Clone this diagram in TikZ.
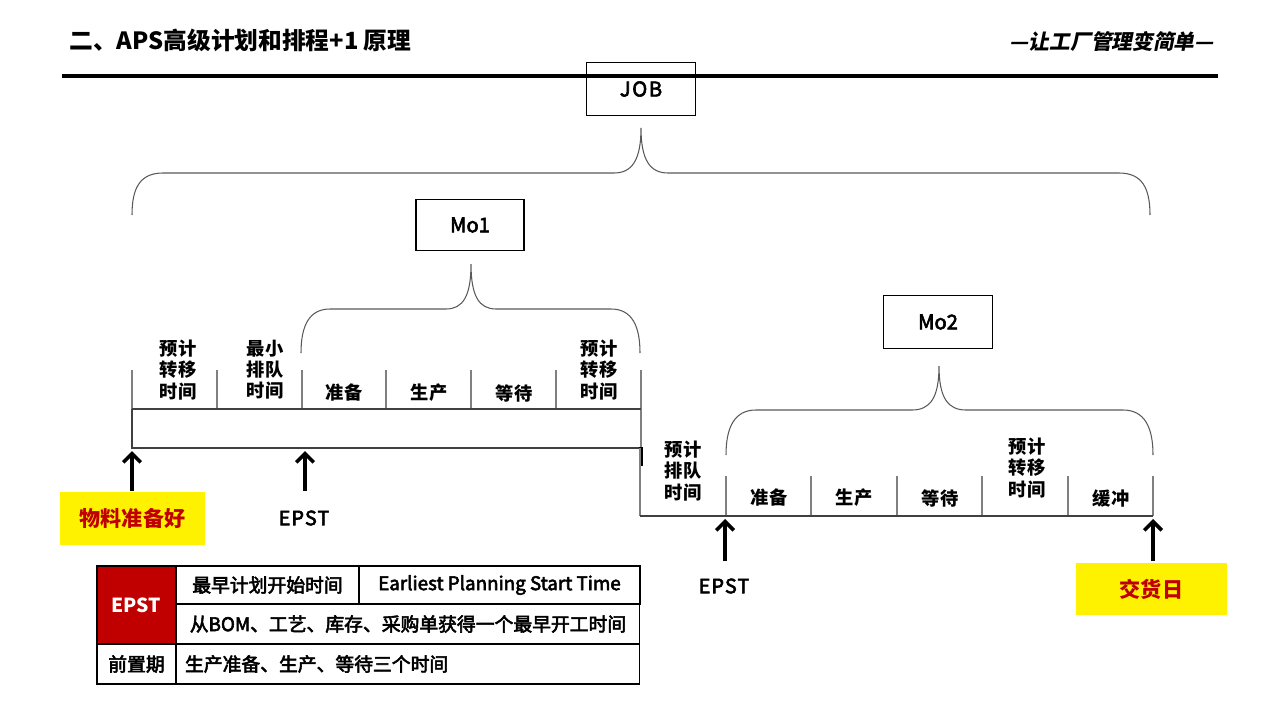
\documentclass[tikz,border=0pt]{standalone}
\usepackage{fontspec}
\setmainfont{Noto Sans CJK SC}
\newfontfamily\medfont{Noto Sans CJK SC}[FakeBold=3]
\newfontfamily\slfont{Noto Sans CJK SC}[FakeSlant=0.2]
\usetikzlibrary{arrows.meta}
\definecolor{dred}{HTML}{C00000}
\definecolor{brgray}{HTML}{595959}
\definecolor{tkgray}{HTML}{808080}
\definecolor{lngray}{HTML}{404040}
\begin{document}
\begin{tikzpicture}[x=0.02cm,y=-0.02cm,
  titlebox/.style={draw=black, line width=0.6pt, fill=white, inner sep=0pt, font=\fontsize{11.5}{13}\selectfont\medfont},
  bracel/.style={draw=brgray, line width=0.6pt},
  tick/.style={draw=tkgray, line width=0.6pt},
  hline/.style={draw=lngray, line width=0.6pt},
  lbl/.style={align=center, inner sep=0pt, font=\fontsize{10.4}{12}\selectfont\bfseries},
  uparrow/.style={draw=black, line width=2.1pt, -{Straight Barb[length=5pt,width=10pt]}},
  yellowbox/.style={fill=yellow, inner sep=0pt, text=dred, font=\fontsize{12}{14}\selectfont\bfseries},
  epstlbl/.style={inner sep=0pt, font=\fontsize{11.2}{13}\selectfont\medfont\addfontfeature{LetterSpace=6}},
  cell/.style={draw=black, line width=0.6pt, inner sep=0pt, font=\fontsize{10.7}{12}\selectfont\medfont},
]
\useasboundingbox (0,0) rectangle (1280,720);

% header
\node[anchor=west, inner sep=0pt, font=\fontsize{13.5}{15}\selectfont\bfseries] (title) at (69,40) {二、APS高级计划和排程+1 原理};
\node[anchor=east, inner sep=0pt, font=\fontsize{11.8}{13}\selectfont\slfont\bfseries] (slogan) at (1214,42) {—让工厂管理变简单—};

% JOB box and thick rule
\node[titlebox, minimum width=2.18cm, minimum height=1.06cm] (job) at (641,89) {\addfontfeature{LetterSpace=8}JOB};
\coordinate (ruleL) at (62,76);
\coordinate (ruleR) at (1218,76);
\draw[line width=2.8pt] (ruleL) -- (ruleR);

% JOB brace
\draw[bracel] (132,215) .. controls (132,188) and (140,173) .. (163,173) -- (614,173)
  .. controls (632,173) and (641,160) .. (641,128)
  .. controls (641,160) and (650,173) .. (668,173) -- (1119,173)
  .. controls (1142,173) and (1150,188) .. (1150,215);

% Mo1
\node[titlebox, minimum width=2.16cm, minimum height=1.02cm] (mo1) at (470,225) {Mo1};
\draw[bracel] (301,353) .. controls (301,326) and (309,309) .. (330,309) -- (446,309)
  .. controls (463,309) and (471,296) .. (471,264)
  .. controls (471,296) and (479,309) .. (496,309) -- (611,309)
  .. controls (632,309) and (640,326) .. (640,353);

% Mo1 timeline
\foreach \x in {132,217,302,386,471,556} \draw[tick] (\x,370) -- (\x,409);
\draw[tick] (641,370) -- (641,448);
\draw[hline] (132,409) -- (641,409);
\draw[hline] (132,409) -- (132,448) -- (641,448);
\draw[line width=2.2pt] (641,447) -- (641,466);

\node[lbl] (m1a) at (178,370) {预计\\转移\\时间};
\node[lbl] (m1b) at (265,370) {最小\\排队\\时间};
\node[lbl] (m1c) at (344,393) {准备};
\node[lbl] (m1d) at (429,393) {生产};
\node[lbl] (m1e) at (514,393) {等待};
\node[lbl] (m1f) at (599,370) {预计\\转移\\时间};

% Mo2
\node[titlebox, minimum width=2.18cm, minimum height=1.06cm] (mo2) at (938,322) {Mo2};
\draw[bracel] (726,455) .. controls (726,428) and (734,410) .. (756,410) -- (912,410)
  .. controls (930,410) and (939,398) .. (939,366)
  .. controls (939,398) and (948,410) .. (966,410) -- (1123,410)
  .. controls (1145,410) and (1153,428) .. (1153,455);

% Mo2 timeline
\draw[tick] (640,448) -- (640,516);
\foreach \x in {726,811,897,982,1068,1153} \draw[tick] (\x,476) -- (\x,516);
\draw[hline] (640,516) -- (1153,516);

\node[lbl] (m2a) at (683,471) {预计\\排队\\时间};
\node[lbl] (m2b) at (769,498) {准备};
\node[lbl] (m2c) at (854,498) {生产};
\node[lbl] (m2d) at (940,498) {等待};
\node[lbl] (m2e) at (1027,468) {预计\\转移\\时间};
\node[lbl] (m2f) at (1111,499) {缓冲};

% labels and arrows
\node[yellowbox, minimum width=2.9cm, minimum height=1.06cm] (wuliao) at (132.5,518.5) {物料准备好};
\node[epstlbl] (epst1) at (304,518) {EPST};
\node[epstlbl] (epst2) at (724,586) {EPST};
\node[yellowbox, minimum width=3.02cm, minimum height=1.04cm] (jiaohuo) at (1151.5,589) {交货日};

\coordinate (t1) at (132,451);
\coordinate (t2) at (305,451);
\coordinate (t3) at (725,519);
\coordinate (t4) at (1153,519);
\coordinate (s1) at (132,491);
\coordinate (s2) at (305,491);
\coordinate (s3) at (725,561);
\coordinate (s4) at (1153,561);
\draw[uparrow] (s1) -- (t1);
\draw[uparrow] (s2) -- (t2);
\draw[uparrow] (s3) -- (t3);
\draw[uparrow] (s4) -- (t4);

% table
\node[cell, fill=dred, text=white, minimum width=1.58cm, minimum height=1.56cm, font=\fontsize{11}{13}\selectfont\bfseries] (tepst) at (136.5,605) {EPST};
\node[cell, minimum width=3.66cm, minimum height=0.76cm] (t12) at (267.5,585) {最早计划开始时间};
\node[cell, minimum width=5.62cm, minimum height=0.76cm] (t13) at (499.5,585) {Earliest Planning Start Time};
\node[cell, minimum width=9.28cm, minimum height=0.80cm] (t2r) at (408,624) {从BOM、工艺、库存、采购单获得一个最早开工时间};
\node[cell, minimum width=1.58cm, minimum height=0.80cm] (t31) at (136.5,664) {前置期};
\node[cell, minimum width=9.28cm, minimum height=0.80cm, inner xsep=0.18cm, text width=8.92cm, align=left] (t32) at (408,664) {生产准备、生产、等待三个时间};
\end{tikzpicture}
\end{document}
